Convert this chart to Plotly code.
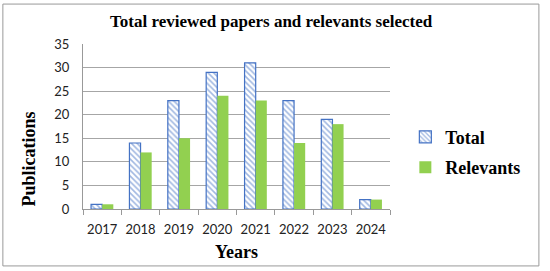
import plotly.graph_objects as go

years = ["2017", "2018", "2019", "2020", "2021", "2022", "2023", "2024"]
total = [1, 14, 23, 29, 31, 23, 19, 2]
relevants = [1, 12, 15, 24, 23, 14, 18, 2]

serif = "Liberation Serif"
sans = "Lato"

fig = go.Figure()
fig.add_trace(go.Bar(
    x=years, y=total, name="Total", legendgroup="t",
    marker=dict(color="white", line=dict(color="#4472C4", width=1.2),
                pattern=dict(shape="\\", fgcolor="#4472C4", bgcolor="white",
                             size=4, solidity=0.4))))
fig.add_trace(go.Bar(
    x=years, y=relevants, name="Relevants", legendgroup="r",
    marker=dict(color="#92D050", line=dict(width=0))))

fig.update_layout(
    width=550, height=271,
    barmode="group", bargap=0.42, bargroupgap=0,
    plot_bgcolor="white", paper_bgcolor="white",
    margin=dict(l=83, r=160, t=44, b=62, autoexpand=False),
    title=dict(text="<b>Total reviewed papers and relevants selected</b>",
               x=0.493, xanchor="center", y=0.922, yanchor="middle",
               font=dict(family=serif, size=17, color="black")),
    legend=dict(x=1.05, xanchor="left", y=0.345, yanchor="middle",
                font=dict(family=serif, size=18, color="black", weight="bold"),
                itemwidth=30, tracegroupgap=4, bgcolor="rgba(0,0,0,0)"),
    font=dict(family=sans, size=13, color="#222"),
    showlegend=True,
)
fig.update_xaxes(
    automargin=False, tickangle=0,
    showline=True, linecolor="#999", linewidth=1,
    ticks="outside", tickson="boundaries", ticklen=5, tickcolor="#999",
    ticklabelstandoff=8,
    title=dict(text="<b>Years</b>", standoff=9,
               font=dict(family=serif, size=18, color="black")),
    tickfont=dict(family=sans, size=13, color="#222"))
fig.update_yaxes(
    automargin=False,
    range=[0, 35], dtick=5, showgrid=True, gridcolor="#A6A6A6", gridwidth=1,
    showline=True, linecolor="#999", linewidth=1, zeroline=False,
    ticks="", ticklabelstandoff=10,
    tickfont=dict(family=sans, size=13, color="#222"))

# y-axis title sits below the plot centre in the original
fig.add_annotation(text="<b>Publications</b>", textangle=-90,
                   xref="paper", yref="paper", x=-0.179, y=0.30,
                   xanchor="center", yanchor="middle", showarrow=False,
                   font=dict(family=serif, size=18, color="black"))

# outer frame around the whole chart
fig.add_shape(type="rect", xref="paper", yref="paper",
              x0=-0.261, x1=1.485, y0=-0.345, y1=1.242,
              line=dict(color="#999", width=1), fillcolor="rgba(0,0,0,0)",
              layer="below")

fig.write_html("out.html", config={"displayModeBar": False},
               post_script="document.body.style.margin='0';")
